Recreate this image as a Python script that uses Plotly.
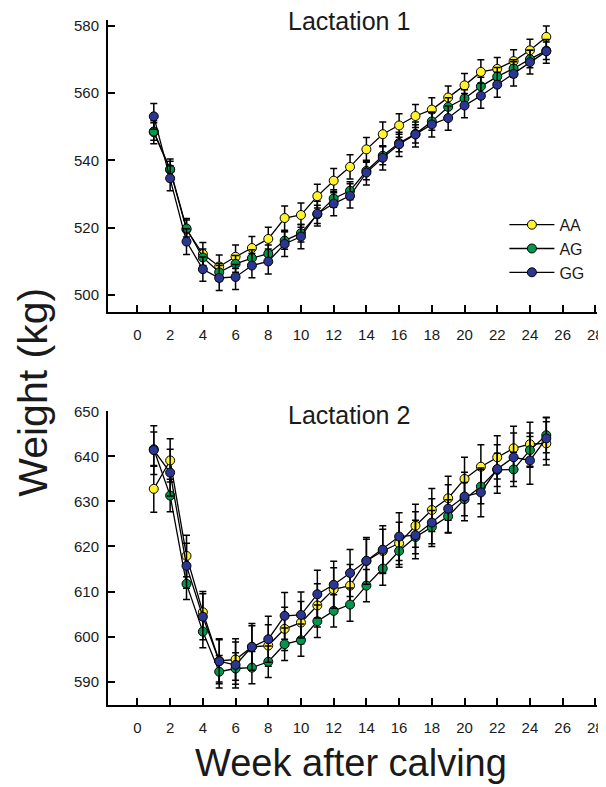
import plotly.graph_objects as go

weeks = list(range(1, 26))

# Lactation 1 (kg)
l1_AA = [548.4, 537.2, 519.5, 512.2, 508.5, 511.4, 514.0, 516.7, 522.9, 523.8, 529.4, 534.0, 538.1,
         543.3, 547.8, 550.4, 553.2, 555.1, 558.7, 562.3, 566.3, 567.2, 569.5, 572.7, 576.7]
l1_AG = [548.6, 537.4, 519.8, 511.2, 506.8, 509.3, 511.0, 512.3, 516.2, 518.4, 524.0, 528.7, 531.0,
         536.9, 541.4, 545.2, 547.9, 551.6, 555.9, 558.4, 562.0, 564.9, 567.3, 570.1, 572.6]
l1_GG = [553.1, 534.7, 515.9, 507.7, 505.1, 505.4, 508.8, 510.0, 515.2, 517.4, 524.2, 527.2, 529.5,
         536.4, 540.8, 544.8, 547.7, 550.7, 552.6, 556.3, 559.2, 562.5, 565.7, 569.2, 572.4]
l1_AA_se = [3.4, 3.2, 3.3, 3.4, 3.4, 3.5, 3.4, 3.5, 3.6, 3.6, 3.5, 3.6, 3.6, 3.5, 3.6, 3.5, 3.4, 3.5,
            3.4, 3.5, 3.6, 3.4, 3.4, 3.3, 3.2]
l1_AG_se = [2.6, 2.4, 2.5, 2.5, 2.6, 2.5, 2.5, 2.6, 2.6, 2.6, 2.7, 2.6, 2.7, 2.6, 2.7, 2.6, 2.7, 2.6,
            2.7, 2.6, 2.7, 2.7, 2.6, 2.6, 2.6]
l1_GG_se = [3.8, 3.7, 3.8, 3.6, 3.7, 3.7, 3.6, 3.7, 3.7, 3.6, 3.7, 3.6, 3.6, 3.7, 3.6, 3.6, 3.7, 3.7,
            3.6, 3.6, 3.7, 3.7, 3.6, 3.5, 3.5]

# Lactation 2 (kg)
l2_AA = [632.8, 639.1, 617.9, 605.4, 594.6, 594.9, 597.7, 598.0, 601.7, 603.1, 606.9, 610.5, 611.3,
         616.8, 619.0, 620.7, 624.6, 628.1, 630.7, 635.0, 637.7, 639.8, 641.8, 642.7, 642.9]
l2_AG = [641.6, 631.3, 611.7, 601.1, 592.2, 592.9, 593.1, 594.4, 598.3, 599.2, 603.4, 605.7, 607.1,
         611.3, 615.1, 619.0, 622.1, 624.3, 626.7, 630.5, 633.3, 637.0, 637.1, 641.4, 644.7]
l2_GG = [641.4, 636.4, 615.7, 604.4, 594.5, 593.7, 597.7, 599.4, 604.6, 604.8, 609.4, 611.5, 614.1,
         616.8, 619.3, 622.2, 622.5, 625.3, 628.4, 631.1, 632.0, 637.2, 639.8, 639.1, 644.0]
l2_AA_se = [5.2, 4.8, 4.6, 4.6, 4.7, 4.6, 4.7, 4.6, 4.8, 4.7, 4.8, 4.8, 4.7, 4.8, 4.8, 4.7, 4.8, 4.8,
            4.9, 4.8, 4.9, 4.8, 4.9, 4.9, 4.8]
l2_AG_se = [3.8, 3.6, 3.5, 3.6, 3.6, 3.5, 3.6, 3.5, 3.6, 3.6, 3.6, 3.6, 3.7, 3.6, 3.7, 3.6, 3.7, 3.7,
            3.7, 3.7, 3.8, 3.7, 3.8, 3.8, 3.9]
l2_GG_se = [5.4, 5.2, 5.0, 5.1, 5.0, 5.1, 5.2, 5.1, 5.2, 5.1, 5.3, 5.2, 5.2, 5.2, 5.3, 5.3, 5.2, 5.3,
            5.3, 5.4, 5.4, 5.4, 5.4, 5.3, 4.7]

genotypes = ["AA", "AG", "GG"]
colors = {"AA": "#FFF22E", "AG": "#00964B", "GG": "#2B3592"}

x_ticks = list(range(0, 29, 2))
y1_ticks = [500, 520, 540, 560, 580]
y2_ticks = [590, 600, 610, 620, 630, 640, 650]

FONT = "Liberation Sans, Arial, sans-serif"
TXT = "#1a1a1a"

fig = go.Figure()

series = [
    ("x", "y", [l1_AA, l1_AG, l1_GG], [l1_AA_se, l1_AG_se, l1_GG_se], True),
    ("x2", "y2", [l2_AA, l2_AG, l2_GG], [l2_AA_se, l2_AG_se, l2_GG_se], False),
]
for xa, ya, vals, ses, show in series:
    for g, v, se in zip(genotypes, vals, ses):
        fig.add_trace(go.Scatter(
            x=weeks, y=v, name=g, xaxis=xa, yaxis=ya, mode="lines+markers",
            line=dict(color="black", width=1.3),
            marker=dict(size=9, color=colors[g], line=dict(color="black", width=1)),
            error_y=dict(type="data", array=se, visible=True, color="black",
                         thickness=1.5, width=3.5),
            showlegend=show, legendgroup=g,
        ))

W, H = 606, 787
L, R = 100, 589


def py(p):
    return 1 - p / H


def px(p):
    return (p - L) / (R - L)


axis_common = dict(
    showline=True, linecolor="black", linewidth=2,
    ticks="inside", ticklen=7, tickwidth=2, tickcolor="black",
    showgrid=False, zeroline=False,
    tickfont=dict(family=FONT, size=15, color=TXT),
)

fig.update_layout(
    width=W, height=H,
    margin=dict(l=L, r=W - R, t=0, b=0),
    plot_bgcolor="white", paper_bgcolor="white",
    xaxis=dict(domain=[0, 1], anchor="y", range=[-1.8, 28.1], tickvals=x_ticks,
               ticklabelstandoff=8, **axis_common),
    yaxis=dict(domain=[py(298.4), py(2.74)], anchor="x", range=[495.0, 581.8], tickvals=y1_ticks,
               ticklabelstandoff=4, **axis_common),
    xaxis2=dict(domain=[0, 1], anchor="y2", range=[-1.8, 28.1], tickvals=x_ticks,
                ticklabelstandoff=8, **axis_common),
    yaxis2=dict(domain=[py(695.5), py(398.7)], anchor="x2", range=[584.9, 650.05], tickvals=y2_ticks,
                ticklabelstandoff=4, **axis_common),
    legend=dict(x=px(496.4), y=py(193), xanchor="left", yanchor="top",
                font=dict(family=FONT, size=16, color=TXT), bgcolor="rgba(0,0,0,0)",
                itemwidth=45, tracegroupgap=0),
    annotations=[
        dict(text="Lactation 1", x=px(341.4), y=py(3.76), xref="paper", yref="paper",
             showarrow=False, font=dict(family=FONT, size=25, color=TXT), yanchor="middle"),
        dict(text="Lactation 2", x=px(341.4), y=py(403.1), xref="paper", yref="paper",
             showarrow=False, font=dict(family=FONT, size=25, color=TXT), yanchor="middle"),
        dict(text="Weight (kg)", x=px(25.4), y=py(379.7), xref="paper", yref="paper",
             showarrow=False, textangle=-90, font=dict(family=FONT, size=41, color=TXT),
             xanchor="center", yanchor="middle"),
        dict(text="Week after calving", x=px(343.4), y=py(754.5), xref="paper", yref="paper",
             showarrow=False, font=dict(family=FONT, size=38, color=TXT),
             xanchor="center", yanchor="middle"),
    ],
)

fig.write_html("out.html")
